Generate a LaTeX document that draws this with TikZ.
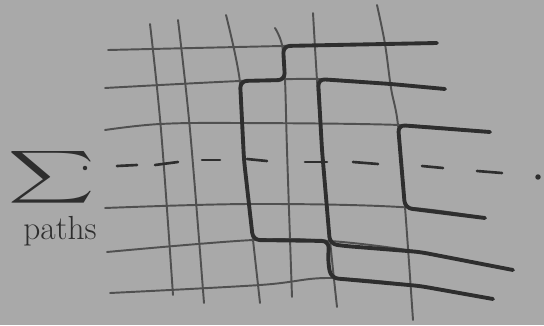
\documentclass[tikz,border=0pt]{standalone}
\usepackage{tikz}
\usetikzlibrary{positioning}
\definecolor{paperGray}{HTML}{A9A9A9}
\definecolor{pencilGray}{HTML}{505050}
\definecolor{pencilDark}{HTML}{2E2E2E}

\begin{document}
\begin{tikzpicture}[
  x=0.02cm, y=-0.02cm,
  rule/.style={draw=pencilGray, line width=1.1pt, line cap=round, line join=round},
  walk/.style={draw=pencilDark, line width=2.2pt, line cap=round, line join=round, rounded corners=4pt},
  tick/.style={draw=pencilDark, line width=1.5pt, line cap=round},
  hand/.style={text=pencilDark, inner sep=0pt}
]
  % Sheet of paper
  \fill[paperGray] (0,0) rectangle (544,325);
  \useasboundingbox (0,0) rectangle (544,325);

  % Horizontal lines of the lattice
  \draw[rule] plot[smooth, tension=0.6] coordinates {(108,50) (282,46) (385,44) (437,43)};
  \draw[rule] plot[smooth, tension=0.6] coordinates {(105,88) (240,81) (320,79) (391,84) (445,89)};
  \draw[rule] plot[smooth, tension=0.6] coordinates {(105,130) (160,124) (240,123) (400,125) (490,132)};
  \draw[rule] plot[smooth, tension=0.6] coordinates {(105,208) (250,204) (400,207) (485,218)};
  \draw[rule] plot[smooth, tension=0.6] coordinates {(107,252) (253,240) (330,241) (420,252) (513,270)};
  \draw[rule] plot[smooth, tension=0.6] coordinates {(110,293) (260,285) (330,278) (420,286) (493,299)};

  % Vertical lines of the lattice
  \draw[rule] plot[smooth, tension=0.6] coordinates {(150,24) (161,130) (173,295)};
  \draw[rule] plot[smooth, tension=0.6] coordinates {(178,20) (190,130) (204,303)};
  \draw[rule] plot[smooth, tension=0.6] coordinates {(226,15) (240,82) (244,160) (253,240) (260,303)};
  \draw[rule] plot[smooth, tension=0.6] coordinates {(275,28) (282,45) (285,80) (287,150) (292,297)};
  \draw[rule] plot[smooth, tension=0.6] coordinates {(313,13) (317,80) (322,150) (330,240) (337,307)};
  \draw[rule] plot[smooth, tension=0.6] coordinates {(377,5) (385,44) (391,88) (398,125) (405,207) (413,320)};

  % Corners of the paths
  \coordinate (a0) at (437,43);
  \coordinate (a1) at (283,46);
  \coordinate (a2) at (285,80);
  \coordinate (a3) at (240,81);
  \coordinate (a4) at (253,240);
  \coordinate (a5) at (329,241);
  \coordinate (a6) at (331,278);
  \coordinate (a7) at (493,299);
  \coordinate (b0) at (445,89);
  \coordinate (b1) at (318,79);
  \coordinate (b2) at (330,244);
  \coordinate (b3) at (513,270);
  \coordinate (c0) at (490,132);
  \coordinate (c1) at (398,125);
  \coordinate (c2) at (405,208);
  \coordinate (c3) at (485,218);

  % Paths through the lattice
  \draw[walk] (a0) -- (385,44) -- (a1) -- (a2) -- (a3) -- (244,160) -- (a4) -- (a5) -- (328,262) -- (a6)
              -- (420,286) -- (a7);
  \draw[walk] (b0) -- (391,84) -- (b1) -- (322,150) -- (b2) -- (345,246) -- (420,252) -- (b3);
  \draw[walk] (c0) -- (c1) -- (c2) -- (c3);

  % Dashed line across the middle
  \draw[tick] (117,166) -- (137,165);
  \draw[tick] (155,165) -- (178,162);
  \draw[tick] (202,160) -- (220,160);
  \draw[tick] (247,159) -- (267,161);
  \draw[tick] (305,162) -- (327,162);
  \draw[tick] (353,162) -- (378,164);
  \draw[tick] (422,166) -- (443,168);
  \draw[tick] (477,171) -- (502,173);
  \node[circle, fill=pencilDark, inner sep=1.1pt] (enddot) at (538,177) {};

  % Sum over paths
  \node[hand] (sigma) at (52,177) {\scalebox{3.4}[2.1]{$\displaystyle\sum$}};
  \node[circle, fill=pencilDark, inner sep=0.9pt] (sigdot) at (85,168) {};
  \node[hand, font=\fontsize{19}{22}\selectfont] (paths) at (60,231) {paths};
\end{tikzpicture}
\end{document}
